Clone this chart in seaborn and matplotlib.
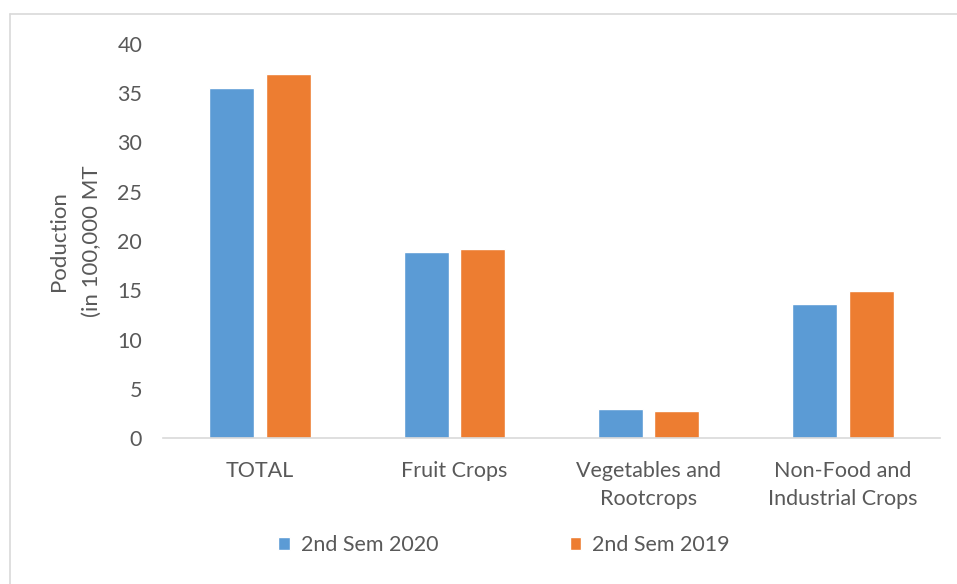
import matplotlib
matplotlib.use("Agg")
import matplotlib.pyplot as plt
import seaborn as sns
import pandas as pd
from matplotlib.lines import Line2D

categories = ["TOTAL", "Fruit Crops", "Vegetables and\nRootcrops", "Non-Food and\nIndustrial Crops"]
series_names = ["2nd Sem 2020", "2nd Sem 2019"]
values_2020 = [35.5, 18.85, 2.97, 13.65]
values_2019 = [37.0, 19.15, 2.77, 14.92]
yticks = [0, 5, 10, 15, 20, 25, 30, 35, 40]

df = pd.DataFrame({
    "category": categories * 2,
    "series": [series_names[0]] * 4 + [series_names[1]] * 4,
    "value": values_2020 + values_2019,
})

sns.set_theme(style="white")
plt.rcParams["font.family"] = ["Lato", "DejaVu Sans"]
text_color = "#595959"
fs = 15.5

fig = plt.figure(figsize=(9.57, 5.84), dpi=100)
ax = fig.add_axes([163 / 957, 1 - 438 / 584, (940 - 163) / 957, (438 - 44) / 584])

sns.barplot(data=df, x="category", y="value", hue="series", order=categories,
            hue_order=series_names, palette=["#5B9BD5", "#ED7D31"],
            width=0.58, gap=0.2, saturation=1, ax=ax, legend=True, errorbar=None)

ax.set_xlim(-0.5, 3.5)
ax.set_ylim(0, 40)
ax.set_yticks(yticks)
ax.set_yticklabels([str(t) for t in yticks], fontsize=fs, color=text_color)
ax.tick_params(axis="x", labelsize=fs, colors=text_color, length=0, pad=16.5)
ax.tick_params(axis="y", length=0, pad=15)
for lbl in ax.get_xticklabels():
    lbl.set_color(text_color)
    lbl.set_linespacing(1.5)
ax.set_xlabel("")
ax.set_ylabel("Poduction\n(in 100,000 MT", fontsize=fs + 0.5, color=text_color,
              labelpad=11, linespacing=1.8)

for s in ["top", "right", "left"]:
    ax.spines[s].set_visible(False)
ax.spines["bottom"].set_color("#D9D9D9")
ax.spines["bottom"].set_linewidth(1.2)
ax.grid(False)

handles, labels = ax.get_legend_handles_labels()
ax.legend_.remove()
fig.legend(handles, labels, loc="center", bbox_to_anchor=(504 / 957, 1 - 545 / 584),
           ncol=2, frameon=False, fontsize=fs, labelcolor=text_color,
           handlelength=0.55, handleheight=0.55, handletextpad=0.5, columnspacing=6.1)

# outer chart border (left and top visible)
fig.add_artist(Line2D([9.5 / 957, 9.5 / 957], [0, 1 - 14 / 584], transform=fig.transFigure,
                      color="#D9D9D9", lw=1.2))
fig.add_artist(Line2D([9.5 / 957, 1], [1 - 14 / 584, 1 - 14 / 584], transform=fig.transFigure,
                      color="#D9D9D9", lw=1.2))

fig.savefig("out.png", dpi=100, facecolor="white")
